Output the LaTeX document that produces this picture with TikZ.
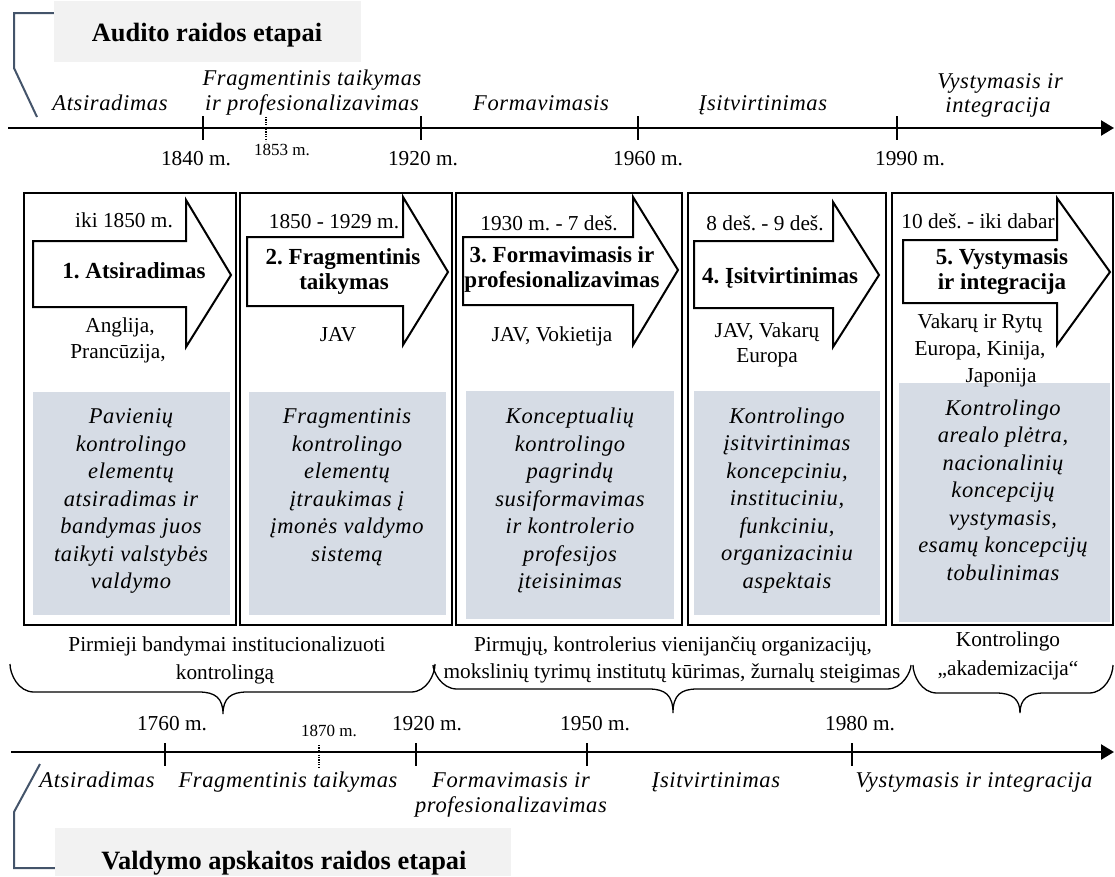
\documentclass[tikz,border=0pt]{standalone}
\usepackage{fontspec}
\setmainfont{Liberation Serif}
\newfontfamily\spacedserif{Liberation Serif}[LetterSpace=2.8]
\usetikzlibrary{arrows.meta}
\frenchspacing

\definecolor{hdrgray}{HTML}{F2F2F2}
\definecolor{panelblue}{HTML}{D6DCE5}
\definecolor{slate}{HTML}{44546A}

% stage arrow: left, body top, body bottom, head base x, head top, head bottom, tip x, tip y
\newcommand\StageArrow[8]{%
  \path[stagearrow] (#1,#2) -- (#4,#2) -- (#4,#5) -- (#7,#8) -- (#4,#6) -- (#4,#3) -- (#1,#3) -- cycle;}

% curly brace opening downwards: left x, right x, end y, bar y, tip x, tip y
\newcommand\CurlyBrace[6]{%
  \draw[bracestyle] (#1,#3) .. controls (#1,#4-18) and (#1+8,#4) .. (#1+24,#4)
    -- (#5-24,#4) .. controls (#5-8,#4) and (#5,#4+6) .. (#5,#6)
    .. controls (#5,#4+6) and (#5+8,#4) .. (#5+24,#4)
    -- (#2-24,#4) .. controls (#2-8,#4) and (#2,#4-18) .. (#2,#3);}

\tikzset{
  reg/.style={font=\fontsize{21.3}{25}\selectfont, inner sep=0pt, anchor=base},
  sml/.style={font=\fontsize{17}{20}\selectfont, inner sep=0pt, anchor=base},
  itl/.style={font=\spacedserif\itshape\fontsize{22.5}{25}\selectfont, inner sep=0pt, anchor=base},
  bld/.style={font=\bfseries\fontsize{23}{26}\selectfont, inner sep=0pt, anchor=base},
  ttl/.style={font=\bfseries\fontsize{26.4}{30}\selectfont, inner sep=0pt, anchor=base},
  panel/.style={font=\spacedserif\itshape\fontsize{22.5}{27.5}\selectfont, align=center, inner sep=0pt},
  hdrbox/.style={fill=hdrgray, inner sep=0pt},
  stagebox/.style={draw=black, line width=2.5pt, inner sep=0pt},
  graybox/.style={fill=panelblue, inner sep=0pt},
  stagearrow/.style={draw=black, fill=white, line width=2pt, line join=miter},
  axisline/.style={line width=2.5pt, -{Triangle[length=13pt,width=15pt]}},
  tickmark/.style={line width=2.5pt},
  dottick/.style={line width=1.3pt, dash pattern=on 1.2pt off 1.2pt},
  bracestyle/.style={line width=1.3pt},
  frameline/.style={draw=slate, line width=2pt},
}

\begin{document}
\begin{tikzpicture}[x=1pt, y=-1pt]
\useasboundingbox (0,0) rectangle (1115,876);

% ---------- upper axis: audit ----------
\node[hdrbox, minimum width=307pt, minimum height=61pt] (hdrtop) at (207.5,31.5) {};
\node[ttl] (hdrtoptxt) at (207,41) {Audito raidos etapai};
\draw[frameline] (hdrtop.west |- 0,13) -- (14,13) -- (14,68) -- (37,117);

\coordinate (axAstart) at (8,128);
\coordinate (axAend) at (1114,128);
\draw[axisline] (axAstart) -- (axAend);
\foreach \x in {203,421,638,897} \draw[tickmark] (\x,116) -- (\x,140);
\draw[dottick] (266,117) -- (266,141);

\node[itl] (pA1) at (110,110) {Atsiradimas};
\node[itl] (pA2a) at (312,85) {Fragmentinis taikymas};
\node[itl] (pA2b) at (312,110) {ir profesionalizavimas};
\node[itl] (pA3) at (541,110) {Formavimasis};
\node[itl] (pA4) at (763,110) {Įsitvirtinimas};
\node[itl] (pA5a) at (1000,88) {Vystymasis ir};
\node[itl] (pA5b) at (998,112) {integracija};

\node[reg] (yA1) at (196,165) {1840 m.};
\node[sml] (yA1b) at (282,155) {1853 m.};
\node[reg] (yA2) at (423,165) {1920 m.};
\node[reg] (yA3) at (648,165) {1960 m.};
\node[reg] (yA4) at (910,165) {1990 m.};

% ---------- stage panels ----------
\node[stagebox, minimum width=212pt, minimum height=432pt] (st1) at (130,409) {};
\node[stagebox, minimum width=212pt, minimum height=432pt] (st2) at (346,409) {};
\node[stagebox, minimum width=226pt, minimum height=432pt] (st3) at (569,409) {};
\node[stagebox, minimum width=198pt, minimum height=432pt] (st4) at (787,409) {};
\node[stagebox, minimum width=221pt, minimum height=432pt] (st5) at (1002.5,409) {};

\node[graybox, minimum width=197pt, minimum height=223pt] (g1) at (131.5,503.5) {};
\node[graybox, minimum width=197pt, minimum height=223pt] (g2) at (347.5,503.5) {};
\node[graybox, minimum width=208pt, minimum height=228pt] (g3) at (570,505) {};
\node[graybox, minimum width=186pt, minimum height=224pt] (g4) at (787,503) {};
\node[graybox, minimum width=211pt, minimum height=239pt] (g5) at (1004.5,502.5) {};

\StageArrow{33}{241}{307}{186}{200}{347}{231}{275}
\StageArrow{247}{237}{306}{403}{197}{345}{448}{272}
\StageArrow{463}{237}{305}{633}{197}{345}{678}{270}
\StageArrow{694}{241}{308}{833}{202}{347}{879}{275}
\StageArrow{903}{240}{303}{1057}{198}{345}{1110}{272}

% stage 1
\node[reg] (d1) at (124,227) {iki 1850 m.};
\node[bld] (t1) at (134,278) {1. Atsiradimas};
\node[reg] (c1a) at (120,332) {Anglija,};
\node[reg] (c1b) at (118,358) {Prancūzija,};
\node[panel] (x1) at (131,501) {Pavienių\\kontrolingo\\elementų\\atsiradimas ir\\bandymas juos\\taikyti valstybės\\valdymo};

% stage 2
\node[reg] (d2) at (334,228) {1850 - 1929 m.};
\node[bld] (t2a) at (343,264) {2. Fragmentinis};
\node[bld] (t2b) at (344,289) {taikymas};
\node[reg] (c2) at (338,341) {JAV};
\node[panel] (x2) at (347,487.5) {Fragmentinis\\kontrolingo\\elementų\\įtraukimas į\\įmonės valdymo\\sistemą};

% stage 3
\node[reg] (d3) at (549,230) {1930 m. - 7 deš.};
\node[bld] (t3a) at (562,262) {3. Formavimasis ir};
\node[bld] (t3b) at (562,287) {profesionalizavimas};
\node[reg] (c3) at (552,341) {JAV, Vokietija};
\node[panel] (x3) at (570,500.5) {Konceptualių\\kontrolingo\\pagrindų\\susiformavimas\\ir kontrolerio\\profesijos\\įteisinimas};

% stage 4
\node[reg] (d4) at (765,230) {8 deš. - 9 deš.};
\node[bld] (t4) at (780,283) {4. Įsitvirtinimas};
\node[reg] (c4a) at (767,337) {JAV, Vakarų};
\node[reg] (c4b) at (767,362) {Europa};
\node[panel] (x4) at (787,500.5) {Kontrolingo\\įsitvirtinimas\\koncepciniu,\\instituciniu,\\funkciniu,\\organizaciniu\\aspektais};

% stage 5
\node[reg] (d5) at (978,228) {10 deš. - iki dabar};
\node[bld] (t5a) at (1002,264) {5. Vystymasis};
\node[bld] (t5b) at (1002,289) {ir integracija};
\node[reg] (c5a) at (980,328) {Vakarų ir Rytų};
\node[reg] (c5b) at (980,355) {Europa, Kinija,};
\node[reg] (c5c) at (1001,382) {Japonija};
\node[panel] (x5) at (1003,490) {Kontrolingo\\arealo plėtra,\\nacionalinių\\koncepcijų\\vystymasis,\\esamų koncepcijų\\tobulinimas};

% ---------- braces ----------
\node[reg] (b1a) at (227,651) {Pirmieji bandymai institucionalizuoti};
\node[reg] (b1b) at (225,679) {kontrolingą};
\node[reg] (b2a) at (673,651) {Pirmųjų, kontrolerius vienijančių organizacijų,};
\node[reg] (b2b) at (672,678) {mokslinių tyrimų institutų kūrimas, žurnalų steigimas};
\node[reg] (b3a) at (1008,646) {Kontrolingo};
\node[reg] (b3b) at (1008,675) {„akademizacija“};

\CurlyBrace{10}{435}{664}{692}{223}{714}
\CurlyBrace{433}{911}{665}{689}{673}{713}
\CurlyBrace{913}{1113}{665}{693}{1020}{713}

% ---------- lower axis: management accounting ----------
\coordinate (axBstart) at (11,752);
\coordinate (axBend) at (1114,752);
\draw[axisline] (axBstart) -- (axBend);
\foreach \x in {165,416,587,852} \draw[tickmark] (\x,743) -- (\x,766);
\draw[dottick] (319,745) -- (319,767);

\node[reg] (yB1) at (172,730) {1760 m.};
\node[sml] (yB1b) at (329,736) {1870 m.};
\node[reg] (yB2) at (427,730) {1920 m.};
\node[reg] (yB3) at (595,730) {1950 m.};
\node[reg] (yB4) at (860,730) {1980 m.};

\node[itl] (pB1) at (97,787) {Atsiradimas};
\node[itl] (pB2) at (288,787) {Fragmentinis taikymas};
\node[itl] (pB3a) at (511,787) {Formavimasis ir};
\node[itl] (pB3b) at (511,812) {profesionalizavimas};
\node[itl] (pB4) at (716,787) {Įsitvirtinimas};
\node[itl] (pB5) at (974,787) {Vystymasis ir integracija};

\node[hdrbox, minimum width=456pt, minimum height=48pt] (hdrbot) at (283,852) {};
\node[ttl] (hdrbottxt) at (284,869) {Valdymo apskaitos raidos etapai};
\draw[frameline] (40,764) -- (14,812) -- (14,868) -- (hdrbot.west |- 0,868);

\end{tikzpicture}
\end{document}
